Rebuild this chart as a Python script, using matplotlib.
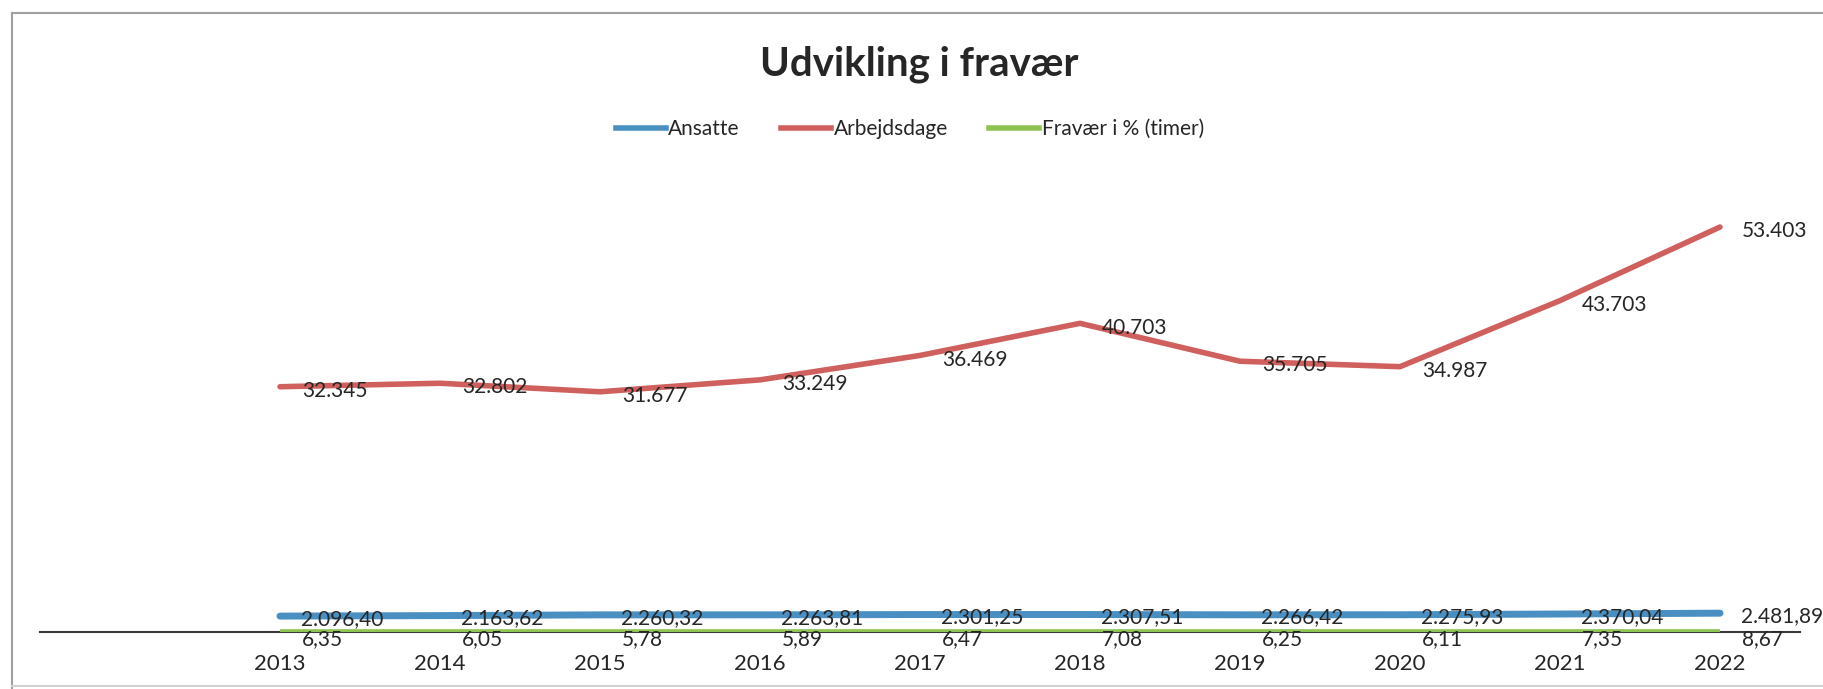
import matplotlib.pyplot as plt
from matplotlib.lines import Line2D

# Udvikling i fravær 2013-2022
years = ["2013", "2014", "2015", "2016", "2017", "2018", "2019", "2020", "2021", "2022"]
ansatte = [2096.40, 2163.62, 2260.32, 2263.81, 2301.25, 2307.51, 2266.42, 2275.93, 2370.04, 2481.89]
arbejdsdage = [32345, 32802, 31677, 33249, 36469, 40703, 35705, 34987, 43703, 53403]
fravaer = [6.35, 6.05, 5.78, 5.89, 6.47, 7.08, 6.25, 6.11, 7.35, 8.67]

blue = "#4a8fc1"
red = "#cf605d"
green = "#8dc453"
txt = "#262626"
font = "Lato"


def dk(v, dec):
    # danish number format: . as thousand sep, , as decimal sep
    s = f"{v:,.{dec}f}"
    return s.replace(",", "X").replace(".", ",").replace("X", ".")


fig = plt.figure(figsize=(18.24, 6.89), dpi=100)
ax = fig.add_axes([40 / 1824, 57 / 689, 1760 / 1824, 455 / 689])

x = list(range(len(years)))
ax.plot(x, ansatte, color=blue, lw=5, solid_capstyle="round", zorder=3)
ax.plot(x, arbejdsdage, color=red, lw=4, solid_capstyle="round", zorder=3)
ax.plot(x, fravaer, color=green, lw=4, solid_capstyle="butt", zorder=3)

for i in x:
    ax.annotate(dk(arbejdsdage[i], 0), (i, arbejdsdage[i]), xytext=(16, -3),
                textcoords="offset points", ha="left", va="center",
                fontsize=15, family=font, color=txt, zorder=4)
    ax.annotate(dk(ansatte[i], 2), (i, ansatte[i]), xytext=(15, -2),
                textcoords="offset points", ha="left", va="center",
                fontsize=15, family=font, color=txt, zorder=4)
    ax.annotate(dk(fravaer[i], 2), (i, fravaer[i]), xytext=(16, -5),
                textcoords="offset points", ha="left", va="center",
                fontsize=15, family=font, color=txt, zorder=4)

ax.set_xlim(-1.5, 9.5)
ax.set_ylim(0, 60000)
ax.set_xticks(x)
ax.set_xticklabels(years, fontsize=16, family=font, color=txt)
ax.tick_params(axis="x", length=0, pad=16)
ax.set_yticks([])
for s in ["top", "left", "right"]:
    ax.spines[s].set_visible(False)
ax.spines["bottom"].set_color("#3a3a3a")
ax.spines["bottom"].set_linewidth(1.5)
ax.patch.set_alpha(0)

fig.text(919 / 1824, 1 - 64 / 689, "Udvikling i fravær", ha="center", va="center",
         fontsize=29, fontweight="bold", family=font, color=txt)

handles = [Line2D([], [], color=blue, lw=4),
           Line2D([], [], color=red, lw=4),
           Line2D([], [], color=green, lw=4)]
fig.legend(handles, ["Ansatte", "Arbejdsdage", "Fravær i % (timer)"],
           loc="center", bbox_to_anchor=(910 / 1824, 1 - 129 / 689), ncol=3,
           frameon=False, handlelength=2.4, handletextpad=0.1, columnspacing=2.0,
           prop={"family": font, "size": 15}, labelcolor=txt)

# chart frame (top and left edges of the scanned chart area)
fig.add_artist(Line2D([12 / 1824, 1], [1 - 13 / 689, 1 - 13 / 689], color="#a0a0a0", lw=1.5))
fig.add_artist(Line2D([12 / 1824, 12 / 1824], [0, 1 - 13 / 689], color="#a0a0a0", lw=1.5))
fig.add_artist(Line2D([12 / 1824, 1], [3 / 689, 3 / 689], color="#d0d0d0", lw=1.5))

fig.savefig("out.png", dpi=100, facecolor="white")
